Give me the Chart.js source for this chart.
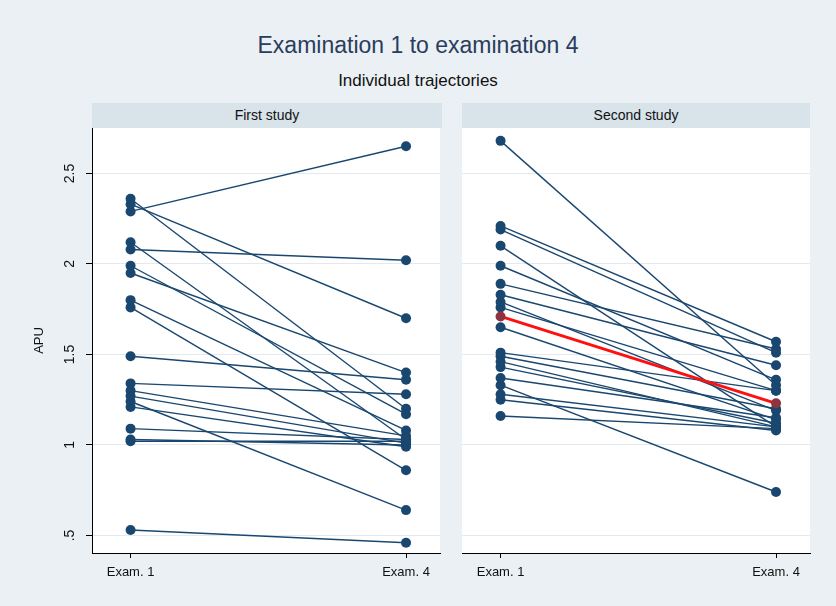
<!DOCTYPE html>
<html>
<head>
<meta charset="utf-8">
<script src="https://cdn.jsdelivr.net/npm/chart.js@4.4.1/dist/chart.umd.min.js"></script>
<style>
  body { margin: 0; background: #eaf0f4; font-family: "Liberation Sans", Arial, sans-serif; }
  #page { position: relative; width: 836px; height: 606px; overflow: hidden; }
  .title { position: absolute; left: 0; width: 836px; text-align: center; }
  #main-title { top: 32px; font-size: 23px; color: #2a3d5c; }
  #sub-title { top: 71px; font-size: 17px; color: #111; }
  .strip { position: absolute; top: 103px; height: 25px; background: #d8e3ea; font-size: 14px; line-height: 25px; text-align: center; color: #111; }
  canvas { position: absolute; top: 100px; }
</style>
</head>
<body>
<div id="page">
  <div id="main-title" class="title">Examination 1 to examination 4</div>
  <div id="sub-title" class="title">Individual trajectories</div>
  <div class="strip" style="left:92px;width:350px;">First study</div>
  <div class="strip" style="left:462px;width:348px;">Second study</div>
  <canvas id="firstStudy" width="445" height="506" style="left:0;"></canvas>
  <canvas id="secondStudy" width="391" height="506" style="left:445px;"></canvas>
</div>

<script>
// --- data ---
const examTicks = [1, 4];
const examLabels = ["Exam. 1", "Exam. 4"];
const apuTicks = [0.5, 1, 1.5, 2, 2.5];
const apuLabels = [".5", "1", "1.5", "2", "2.5"];

// first study, one entry per subject
const firstExam1 = [2.36, 2.33, 2.29, 2.12, 2.08, 1.99, 1.95, 1.80, 1.76, 1.49, 1.34, 1.30, 1.27, 1.24, 1.21, 1.09, 1.03, 1.02, 0.53];
const firstExam4 = [1.20, 1.70, 2.65, 1.03, 2.02, 1.17, 1.40, 1.08, 0.86, 1.36, 1.28, 1.05, 1.01, 0.64, 0.99, 1.03, 1.00, 1.02, 0.46];

// second study
const secondExam1 = [2.68, 2.21, 2.19, 2.10, 1.99, 1.89, 1.83, 1.79, 1.76, 1.65, 1.51, 1.49, 1.46, 1.43, 1.37, 1.33, 1.28, 1.25, 1.16];
const secondExam4 = [1.33, 1.57, 1.51, 1.10, 1.36, 1.53, 1.44, 1.19, 1.30, 1.14, 1.30, 1.20, 1.10, 1.12, 1.15, 0.74, 1.10, 1.08, 1.09];
const secondMean = [1.71, 1.23];

const NAVY = '#1a476f';
const Y_MIN = 0.403, Y_MAX = 2.751;
const X_MIN = 0.58, X_MAX = 4.37;

function trajectories(exam1, exam4) {
    return exam1.map((a, i) => ({
        data: [{ x: examTicks[0], y: a }, { x: examTicks[1], y: exam4[i] }],
        borderColor: NAVY,
        backgroundColor: NAVY,
        borderWidth: 1.4,
        pointRadius: 5,
        pointBorderWidth: 0,
        showLine: true,
        order: 1
    }));
}

// white plot region + rotated y tick labels
const plotPlugin = {
    id: 'plotRegion',
    beforeDraw(chart) {
        const { ctx, chartArea: a } = chart;
        ctx.save();
        ctx.fillStyle = '#ffffff';
        ctx.fillRect(a.left, a.top, a.right - a.left, a.bottom - a.top);
        ctx.restore();
    },
    afterDraw(chart, args, opts) {
        if (!opts.labels) return;
        const y = chart.scales.y;
        const ctx = chart.ctx;
        ctx.save();
        ctx.font = '14px "Liberation Sans", Arial, sans-serif';
        ctx.fillStyle = '#111';
        ctx.textAlign = 'center';
        ctx.textBaseline = 'middle';
        apuTicks.forEach((v, i) => {
            ctx.save();
            ctx.translate(y.right - 22, y.getPixelForValue(v));
            ctx.rotate(-Math.PI / 2);
            ctx.fillText(apuLabels[i], 0, 0);
            ctx.restore();
        });
        ctx.restore();
    }
};

function xScale() {
    return {
        type: 'linear',
        min: X_MIN,
        max: X_MAX,
        afterBuildTicks: s => { s.ticks = examTicks.map(v => ({ value: v })); },
        afterFit: s => { s.height = 53; },
        border: { display: true, color: '#000', width: 1 },
        grid: { drawOnChartArea: false, tickLength: 5, tickColor: '#000', tickWidth: 1 },
        ticks: {
            padding: 7,
            color: '#111',
            font: { size: 13, family: '"Liberation Sans", Arial, sans-serif' },
            maxRotation: 0,
            callback: v => examLabels[examTicks.indexOf(v)]
        }
    };
}

function yScale(withAxis) {
    return {
        type: 'linear',
        min: Y_MIN,
        max: Y_MAX,
        afterBuildTicks: s => { s.ticks = apuTicks.map(v => ({ value: v })); },
        afterFit: s => { s.width = withAxis ? 92 : 17; },
        border: { display: withAxis, color: '#000', width: 1 },
        grid: {
            color: '#e3eaef',
            lineWidth: 1,
            drawTicks: withAxis,
            tickLength: 6,
            tickColor: '#000'
        },
        ticks: { display: false },
        title: {
            display: withAxis,
            text: 'APU',
            color: '#111',
            font: { size: 13, family: '"Liberation Sans", Arial, sans-serif' },
            padding: { top: 32, bottom: 0 }
        }
    };
}

function panel(id, datasets, withAxis, rightPad) {
    return new Chart(document.getElementById(id), {
        type: 'scatter',
        data: { datasets },
        options: {
            responsive: false,
            animation: false,
            layout: { padding: { top: 28, right: rightPad, bottom: 0, left: 0 } },
            plugins: {
                legend: { display: false },
                tooltip: { enabled: false },
                plotRegion: { labels: withAxis }
            },
            scales: { x: xScale(), y: yScale(withAxis) }
        },
        plugins: [plotPlugin]
    });
}

panel('firstStudy', trajectories(firstExam1, firstExam4), true, 3);

const meanLine = {
    data: [{ x: examTicks[0], y: secondMean[0] }, { x: examTicks[1], y: secondMean[1] }],
    borderColor: '#ff1010',
    backgroundColor: '#8e3340',
    borderWidth: 3,
    pointRadius: 5,
    pointBorderWidth: 0,
    showLine: true,
    order: 0
};
panel('secondStudy', [meanLine].concat(trajectories(secondExam1, secondExam4)), false, 26);
</script>
</body>
</html>
